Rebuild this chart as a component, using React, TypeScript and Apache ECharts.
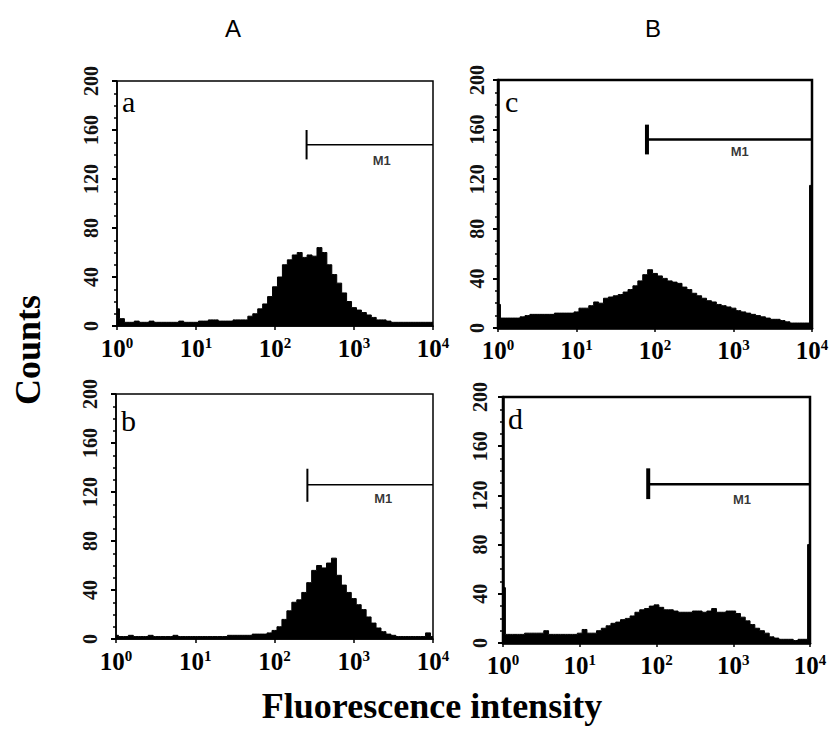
import React, { useEffect, useRef } from 'react';
import * as echarts from 'echarts';

const binsPerDecade = 16;
const yTicks = [0, 40, 80, 120, 160, 200];
const decadeLabels = ['0', '1', '2', '3', '4'];

const countsA = [
  14, 6, 3, 3, 4, 3, 3, 4, 3, 3, 3, 3, 3, 4, 3, 3,
  3, 4, 4, 5, 5, 4, 4, 4, 5, 5, 5, 8, 10, 14, 18, 24,
  32, 40, 50, 54, 58, 60, 56, 58, 57, 64, 60, 50, 42, 35, 27, 20,
  15, 13, 11, 9, 7, 5, 5, 4, 3, 3, 3, 3, 3, 3, 3, 3, 3,
];
const countsB = [
  3, 2, 2, 3, 2, 2, 2, 3, 2, 2, 2, 2, 3, 2, 2, 2,
  2, 2, 2, 2, 2, 2, 2, 3, 3, 3, 3, 3, 4, 4, 4, 5,
  7, 10, 16, 23, 30, 32, 38, 46, 56, 60, 58, 62, 66, 52, 44, 38,
  33, 28, 24, 18, 13, 9, 6, 4, 3, 2, 2, 2, 2, 2, 2, 5, 2,
];
const countsC = [
  19, 8, 8, 8, 8, 9, 10, 11, 11, 11, 11, 11, 12, 12, 12, 12,
  13, 16, 16, 18, 21, 20, 24, 25, 26, 27, 29, 31, 34, 38, 43, 47,
  44, 42, 40, 38, 37, 36, 33, 31, 28, 26, 24, 22, 21, 19, 18, 17,
  16, 14, 13, 12, 11, 10, 9, 8, 7, 7, 6, 5, 4, 4, 4, 4, 115,
];
const countsD = [
  45, 7, 7, 7, 7, 8, 8, 8, 8, 10, 7, 7, 7, 7, 7, 7,
  8, 11, 8, 8, 10, 12, 14, 16, 17, 19, 20, 22, 25, 27, 28, 30,
  31, 29, 27, 27, 26, 25, 25, 25, 26, 26, 25, 26, 28, 25, 25, 26,
  26, 24, 21, 18, 15, 12, 10, 8, 5, 4, 3, 3, 3, 2, 3, 3, 80,
];

const panelCounts = [countsA, countsB, countsC, countsD];
const panelLetters = ['a', 'b', 'c', 'd'];

const m1Start = [251, 260, 79, 78];
const m1Level = [148, 126, 152, 129];
const m1Low = [136, 112, 140, 117];
const m1High = [160, 139, 164, 142];
const m1LabelX = [2240, 2350, 1200, 1300];
const m1LabelY = [135, 115, 142, 117];

const grids = [
  { left: 117, top: 81, width: 316, height: 245 },
  { left: 116, top: 394, width: 317, height: 245 },
  { left: 498, top: 80, width: 314, height: 248 },
  { left: 503, top: 397, width: 307, height: 246 },
];
const frameWidth = [1.5, 1.5, 2.5, 2.5];
const yLabelMargin = [16, 16, 11, 13];
const letterPos = [
  [122, 101],
  [121, 420],
  [505, 101],
  [508, 418],
];

const serif = 'Liberation Serif';
const sans = 'Liberation Sans';

export default function App() {
  const ref = useRef<HTMLDivElement>(null);

  useEffect(() => {
    if (!ref.current) return;
    const chart = echarts.init(ref.current, null, { renderer: 'svg' });

    const xAxis: any[] = [];
    const yAxis: any[] = [];
    const series: any[] = [];

    grids.forEach((g, i) => {
      xAxis.push({
        type: 'log',
        logBase: 10,
        gridIndex: i,
        min: 1,
        max: 10000,
        axisLine: { show: true, lineStyle: { color: '#000', width: frameWidth[i] } },
        axisTick: { show: true, length: 4, lineStyle: { color: '#000', width: 1.5 } },
        splitLine: { show: false },
        axisLabel: {
          margin: 9,
          formatter: (v: number) => {
            const e = Math.round(Math.log10(v));
            return '{b|10}{s|' + decadeLabels[e] + '}';
          },
          rich: {
            b: { fontFamily: serif, fontWeight: 'bold', fontSize: 25, color: '#000' },
            s: {
              fontFamily: serif,
              fontWeight: 'bold',
              fontSize: 15,
              color: '#000',
              padding: [0, 0, 11, 0],
            },
          },
        },
      });
      yAxis.push({
        type: 'value',
        gridIndex: i,
        min: 0,
        max: 200,
        interval: 40,
        axisLine: { show: true, lineStyle: { color: '#000', width: frameWidth[i] } },
        axisTick: { show: true, length: 5, lineStyle: { color: '#000', width: 2 } },
        minorTick: { show: true, splitNumber: 4, length: 3, lineStyle: { color: '#000', width: 1.5 } },
        splitLine: { show: false },
        axisLabel: {
          rotate: 90,
          margin: yLabelMargin[i],
          formatter: (v: number) => '{n|' + v + '}',
          rich: {
            n: { fontFamily: serif, fontWeight: 'bold', fontSize: 20, color: '#111' },
          },
        },
      });

      const counts = panelCounts[i];
      series.push({
        type: 'line',
        xAxisIndex: i,
        yAxisIndex: i,
        step: 'middle',
        symbol: 'none',
        data: counts.map((c, j) => [Math.pow(10, j / binsPerDecade), c]),
        lineStyle: { color: '#000', width: 1 },
        areaStyle: { color: '#000', opacity: 1 },
        silent: true,
      });
      series.push({
        type: 'line',
        xAxisIndex: i,
        yAxisIndex: i,
        symbol: 'none',
        data: [
          [m1Start[i], m1Level[i]],
          [10000, m1Level[i]],
        ],
        lineStyle: { color: '#000', width: i < 2 ? 1.5 : 2.5 },
        silent: true,
      });
      series.push({
        type: 'line',
        xAxisIndex: i,
        yAxisIndex: i,
        symbol: 'none',
        data: [
          [m1Start[i], m1Low[i]],
          [m1Start[i], m1High[i]],
        ],
        lineStyle: { color: '#000', width: i < 2 ? 2 : 4 },
        silent: true,
      });
      series.push({
        type: 'scatter',
        xAxisIndex: i,
        yAxisIndex: i,
        symbolSize: 1,
        itemStyle: { color: 'rgba(0,0,0,0)' },
        data: [[m1LabelX[i], m1LabelY[i]]],
        label: {
          show: true,
          position: 'inside',
          formatter: '{m|M1}',
          rich: { m: { fontFamily: sans, fontWeight: 'bold', fontSize: 13, color: '#000' } },
        },
        silent: true,
      });
    });

    const graphic: any[] = [
      {
        type: 'text',
        x: 233,
        y: 28,
        style: { text: 'A', fontFamily: sans, fontSize: 24, fill: '#000', align: 'center', verticalAlign: 'middle' },
      },
      {
        type: 'text',
        x: 653,
        y: 28,
        style: { text: 'B', fontFamily: sans, fontSize: 24, fill: '#000', align: 'center', verticalAlign: 'middle' },
      },
      {
        type: 'text',
        x: 28,
        y: 350,
        rotation: Math.PI / 2,
        style: {
          text: 'Counts',
          fontFamily: serif,
          fontWeight: 'bold',
          fontSize: 36,
          fill: '#000',
          align: 'center',
          verticalAlign: 'middle',
        },
      },
      {
        type: 'text',
        x: 432,
        y: 706,
        style: {
          text: 'Fluorescence intensity',
          fontFamily: serif,
          fontWeight: 'bold',
          fontSize: 36,
          fill: '#000',
          align: 'center',
          verticalAlign: 'middle',
        },
      },
      ...panelLetters.map((t, i) => ({
        type: 'text',
        x: letterPos[i][0],
        y: letterPos[i][1],
        style: {
          text: t,
          fontFamily: serif,
          fontSize: 30,
          fill: '#000',
          align: 'left',
          verticalAlign: 'middle',
        },
      })),
    ];

    chart.setOption({
      animation: false,
      backgroundColor: '#fff',
      grid: grids.map((g, i) => ({
        ...g,
        show: true,
        borderColor: '#000',
        borderWidth: frameWidth[i],
        backgroundColor: 'transparent',
      })),
      xAxis,
      yAxis,
      series,
      graphic,
    });

    return () => chart.dispose();
  }, []);

  return (
    <div
      ref={ref}
      style={{ position: 'fixed', left: 0, top: 0, width: 837, height: 730, background: '#fff' }}
    />
  );
}
